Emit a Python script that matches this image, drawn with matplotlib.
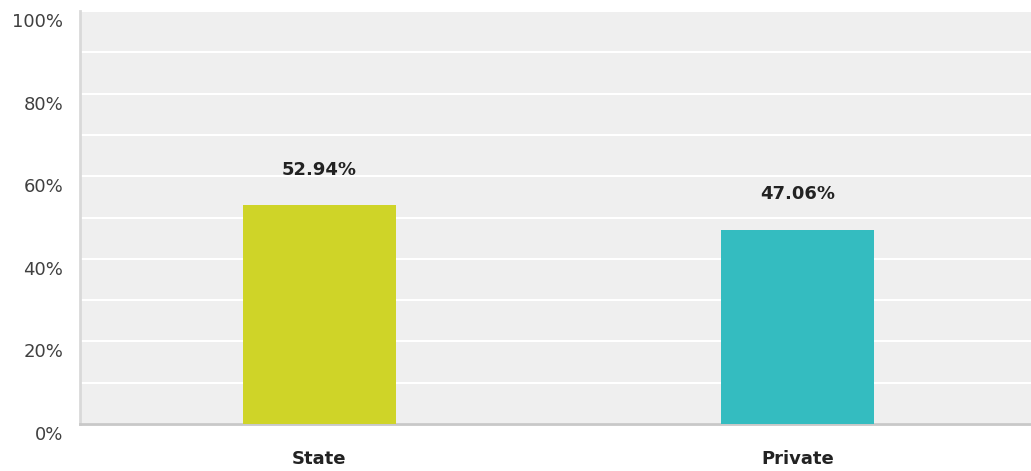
import matplotlib.pyplot as plt
import matplotlib.transforms as mtransforms
from matplotlib.ticker import MultipleLocator

# data
categories = ['State', 'Private']
shares = [52.94, 47.06]
bar_colors = ['#cfd428', '#34bcc0']

fig = plt.figure(figsize=(10.31, 4.71), dpi=100)
# plot area runs a bit past the right edge of the image, like the original
ax = fig.add_axes([80 / 1031, 47 / 471, 957 / 1031, 413 / 471])
ax.set_facecolor('#efefef')

x = range(len(categories))
bars = ax.bar(x, shares, width=0.32, color=bar_colors, zorder=3)

ax.set_xlim(-0.5, 1.5)
ax.set_ylim(0, 100)

# gridlines every 10%, labels every 20%
ax.yaxis.set_major_locator(MultipleLocator(20))
ax.yaxis.set_minor_locator(MultipleLocator(10))
ax.grid(axis='y', which='both', color='white', linewidth=1.5, zorder=1)
ax.set_axisbelow(True)

ax.set_yticks(range(0, 101, 20))
ax.set_yticklabels(['%d%%' % v for v in range(0, 101, 20)])
ax.tick_params(axis='y', which='both', length=0, pad=12, labelsize=13, labelcolor='#404040')
shift = mtransforms.ScaledTranslation(0, -9 / 100, fig.dpi_scale_trans)
for lbl in ax.get_yticklabels():
    lbl.set_transform(lbl.get_transform() + shift)

ax.set_xticks(list(x))
ax.set_xticklabels(categories, fontsize=13, fontweight='bold', color='#222222')
ax.tick_params(axis='x', length=0, pad=19)

for s in ['top', 'right']:
    ax.spines[s].set_visible(False)
ax.spines['left'].set_color('#d9d9d9')
ax.spines['left'].set_linewidth(2)
ax.spines['bottom'].set_color('#c8c8c8')
ax.spines['bottom'].set_linewidth(2)

# value labels above bars
for b, v in zip(bars, shares):
    ax.annotate('%.2f%%' % v, (b.get_x() + b.get_width() / 2, v),
                xytext=(0, 19), textcoords='offset points',
                ha='center', va='bottom', fontsize=13, fontweight='bold', color='#222222')

fig.savefig('out.png', dpi=100)
